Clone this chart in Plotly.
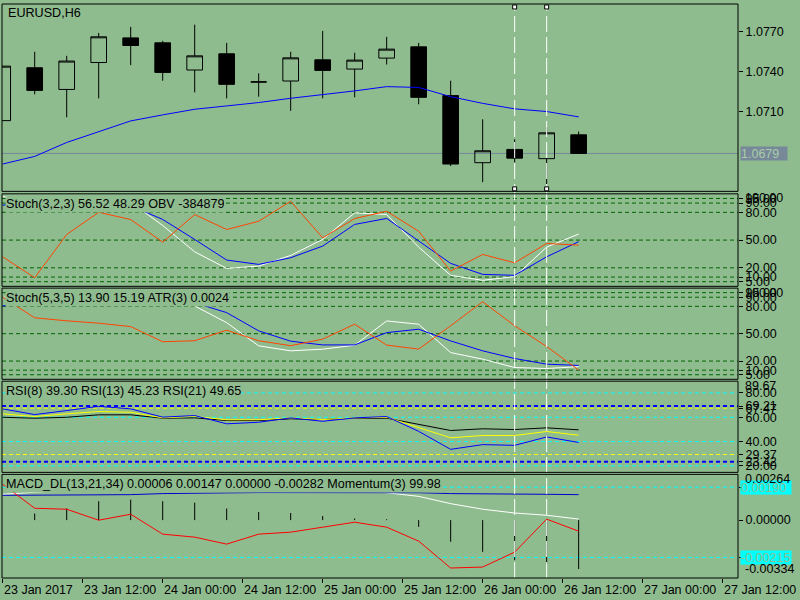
import plotly.graph_objects as go

# ---------------- data (H6 bars, left to right) ----------------
bars = list(range(19))

open_ = [1.07035, 1.07430, 1.07268, 1.07469, 1.07653, 1.07616, 1.07413, 1.07534, 1.07324, 1.07331,
         1.07489, 1.07420, 1.07502, 1.07586, 1.07222, 1.06721, 1.06820, 1.06751, 1.06929]
high = [1.07442, 1.07549, 1.07519, 1.07690, 1.07735, 1.07631, 1.07752, 1.07616, 1.07388, 1.07549,
        1.07705, 1.07542, 1.07661, 1.07616, 1.07333, 1.07045, 1.06896, 1.06986, 1.06954]
low = [1.07035, 1.07231, 1.07060, 1.07201, 1.07450, 1.07333, 1.07246, 1.07201, 1.07214, 1.07108,
       1.07201, 1.07209, 1.07454, 1.07157, 1.06696, 1.06576, 1.06723, 1.06562, 1.06790]
close = [1.07442, 1.07261, 1.07480, 1.07661, 1.07596, 1.07395, 1.07519, 1.07306, 1.07324, 1.07504,
         1.07410, 1.07487, 1.07569, 1.07209, 1.06711, 1.06810, 1.06755, 1.06944, 1.06790]
ma = [1.06711, 1.06768, 1.06872, 1.06954, 1.07033, 1.07078, 1.07120, 1.07145, 1.07170, 1.07202,
      1.07227, 1.07257, 1.07289, 1.07283, 1.07214, 1.07164, 1.07123, 1.07103, 1.07063]
bid = 1.0679

stoch1_main = [97, 92, 93, 92, 91, 65.8, 37.3, 19.4, 21.9, 33.4, 50.7, 79.4, 77.7, 42.4, 11.9, 6.5, 10.4, 42.4, 56.52]
stoch1_signal = [87.7, 92, 95, 93, 87.2, 72.3, 50.7, 28.4, 23.7, 30.9, 43.5, 66.9, 73.4, 48.9, 24.8, 12.9, 11.9, 31.9, 48.29]
obv = [-478500, -646500, -299300, -120900, -179300, -360900, -139300, -259300, -192900, -32900,
       -326500, -171300, -112900, -272900, -592900, -459300, -526500, -371300, -384879]

stoch2_main = [90, 93, 94, 95, 95, 95, 80.4, 62.1, 36.7, 31.2, 33, 37.4, 64, 60.4, 29.3, 22.1, 12.9, 11.8, 13.90]
stoch2_signal = [80.5, 83, 88, 90, 90, 88, 84, 73.1, 53.1, 41.8, 37.7, 37.7, 51.2, 54.9, 42.1, 31.2, 22.8, 16.6, 15.19]
atr = [0.00605, 0.00502, 0.00487, 0.00475, 0.00458, 0.00382, 0.00387, 0.00440, 0.00387, 0.00362,
       0.00395, 0.00470, 0.00365, 0.00345, 0.00462, 0.00583, 0.00462, 0.00358, 0.0024]

rsi8 = [66.9, 62.2, 65.5, 69.0, 66.9, 60.1, 61.4, 54.6, 55.9, 59.5, 56.7, 59.5, 60.6, 48.4, 33.6, 37.5, 36.9, 43.8, 39.30]
rsi13 = [62.8, 60.6, 62.8, 64.7, 64.1, 59.5, 60.8, 57.9, 57.9, 59.5, 58.1, 59.5, 60.0, 51.6, 43.1, 45.0, 45.0, 48.3, 45.23]
rsi21 = [60.0, 59.2, 60.0, 62.0, 62.0, 59.2, 59.5, 57.3, 57.3, 58.7, 58.1, 59.2, 59.2, 54.0, 49.1, 50.5, 49.9, 51.3, 49.65]

macd_main = [0.00149, 0.00159, 0.00172, 0.00176, 0.00178, 0.00180, 0.00180, 0.00178, 0.00176, 0.00174,
             0.00172, 0.00172, 0.00158, 0.00137, 0.00095, 0.00063, 0.00041, 0.00028, 0.00006]
macd_signal = [0.00143, 0.00143, 0.00143, 0.00144, 0.00147, 0.00153, 0.00153, 0.00157, 0.00159, 0.00159,
               0.00159, 0.00159, 0.00159, 0.00158, 0.00153, 0.00153, 0.00152, 0.00149, 0.00147]
macd_hist = [None, 0.00038, 0.00067, 0.00109, 0.00118, 0.00109, 0.00101, 0.00067, 0.00047, 0.00041,
             0.00024, 0.00009, 0.00005, -0.00039, -0.00125, -0.00183, -0.00231, -0.00254, -0.00282]
momentum = [100.45, 100.21, 100.20, 100.09, 100.15, 99.95, 99.92, 99.85, 99.95, 99.97,
            100.02, 100.07, 100.02, 99.88, 99.61, 99.62, 99.77, 100.10, 99.98]

time_ticks = [0, 2.5, 5, 7.5, 10, 12.5, 15, 17.5, 20, 22.5]
time_labels = ["23 Jan 2017", "23 Jan 12:00", "24 Jan 00:00", "24 Jan 12:00", "25 Jan 00:00",
               "25 Jan 12:00", "26 Jan 00:00", "26 Jan 12:00", "27 Jan 00:00", "27 Jan 12:00"]
vline_bars = [16, 17]

stoch_levels = [95, 90, 80, 50, 20, 10, 5]
rsi_cyan = [80, 60, 40, 20]
rsi_blue = [69.21, 23.42]
rsi_yellow = [67.47, 29.37]
macd_levels = [0.00190, -0.00215]

# ---------------- layout helpers ----------------
BG = "#8FBC8F"
FONT = "Liberation Sans"
TOP, BOTTOM = 2, 578


def py(p):
    """pixel row -> paper fraction"""
    return (BOTTOM - p) / (BOTTOM - TOP)


panels = {
    "main": (2, 190),
    "p1": (192.5, 285.3),
    "p2": (287.1, 378.6),
    "p3": (380.5, 472),
    "p4": (474, 578),
}

fig = go.Figure()

# main chart
fig.add_trace(go.Scatter(x=bars, y=ma, mode="lines", line=dict(color="#0000FF", width=1),
                         yaxis="y", hoverinfo="skip"))
fig.add_trace(go.Candlestick(
    x=bars, open=open_, high=high, low=low, close=close, yaxis="y",
    increasing=dict(line=dict(color="black", width=1), fillcolor="rgba(0,0,0,0)"),
    decreasing=dict(line=dict(color="black", width=1), fillcolor="black"),
    whiskerwidth=0, hoverinfo="skip",
))

# Stoch(3,2,3) + OBV
fig.add_trace(go.Scatter(x=bars, y=obv, mode="lines", line=dict(color="#FF4500", width=1), yaxis="y6"))
fig.add_trace(go.Scatter(x=bars, y=stoch1_main, mode="lines", line=dict(color="white", width=1), yaxis="y2"))
fig.add_trace(go.Scatter(x=bars, y=stoch1_signal, mode="lines", line=dict(color="#0000FF", width=1), yaxis="y2"))

# Stoch(5,3,5) + ATR
fig.add_trace(go.Scatter(x=bars, y=atr, mode="lines", line=dict(color="#FF4500", width=1), yaxis="y7"))
fig.add_trace(go.Scatter(x=bars, y=stoch2_main, mode="lines", line=dict(color="white", width=1), yaxis="y3"))
fig.add_trace(go.Scatter(x=bars, y=stoch2_signal, mode="lines", line=dict(color="#0000FF", width=1), yaxis="y3"))

# RSI
fig.add_trace(go.Scatter(x=bars, y=rsi21, mode="lines", line=dict(color="black", width=1), yaxis="y4"))
fig.add_trace(go.Scatter(x=bars, y=rsi13, mode="lines", line=dict(color="#FFFF00", width=1), yaxis="y4"))
fig.add_trace(go.Scatter(x=bars, y=rsi8, mode="lines", line=dict(color="#0000FF", width=1), yaxis="y4"))

# MACD histogram as thin sticks from zero
hx, hy = [], []
for b, v in zip(bars, macd_hist):
    if v is None:
        continue
    hx += [b, b, None]
    hy += [0, v, None]
fig.add_trace(go.Scatter(x=hx, y=hy, mode="lines", line=dict(color="black", width=1), yaxis="y5"))
fig.add_trace(go.Scatter(x=bars, y=momentum, mode="lines", line=dict(color="#FF0000", width=1), yaxis="y8"))
fig.add_trace(go.Scatter(x=bars, y=macd_main, mode="lines", line=dict(color="white", width=1), yaxis="y5"))
fig.add_trace(go.Scatter(x=bars, y=macd_signal, mode="lines", line=dict(color="#0000CC", width=1), yaxis="y5"))

shapes = []
# level lines
for lv in stoch_levels:
    for ax in ("y2", "y3"):
        shapes.append(dict(type="line", xref="paper", x0=0, x1=1, yref=ax, y0=lv, y1=lv, layer="below",
                           line=dict(color="#006400", width=1, dash="4px,3px")))
for lv in rsi_cyan:
    shapes.append(dict(type="line", xref="paper", x0=0, x1=1, yref="y4", y0=lv, y1=lv, layer="below",
                       line=dict(color="#00FFFF", width=1, dash="4px,3px")))
for lv in rsi_yellow:
    shapes.append(dict(type="line", xref="paper", x0=0, x1=1, yref="y4", y0=lv, y1=lv, layer="below",
                       line=dict(color="#FFFF00", width=1, dash="4px,3px")))
for lv in rsi_blue:
    shapes.append(dict(type="line", xref="paper", x0=0, x1=1, yref="y4", y0=lv, y1=lv, layer="below",
                       line=dict(color="#0000FF", width=2, dash="4px,3px")))
for lv in macd_levels:
    shapes.append(dict(type="line", xref="paper", x0=0, x1=1, yref="y5", y0=lv, y1=lv, layer="below",
                       line=dict(color="#00FFFF", width=1, dash="4px,3px")))
# bid line
shapes.append(dict(type="line", xref="paper", x0=0, x1=1, yref="y", y0=bid, y1=bid, layer="below",
                   line=dict(color="#778899", width=1)))
# vertical marker lines across all windows
for b in vline_bars:
    shapes.append(dict(type="line", xref="x", x0=b, x1=b, yref="paper", y0=0, y1=py(5), layer="above",
                       line=dict(color="white", width=1, dash="16px,5px")))
    for yy in (5, 187.5):
        shapes.append(dict(type="rect", xref="x", xsizemode="pixel", xanchor=b, x0=-2, x1=2,
                           yref="paper", ysizemode="pixel", yanchor=py(yy), y0=-2, y1=2,
                           fillcolor="white", line=dict(color="black", width=1), layer="above"))
# panel borders
for top, bot in panels.values():
    shapes.append(dict(type="rect", xref="paper", x0=0, x1=1, yref="paper", y0=py(bot), y1=py(top),
                       line=dict(color="black", width=1), fillcolor="rgba(0,0,0,0)", layer="above"))

ann = []
# window captions (MT4 paints them on an opaque background)
captions = [
    ("p1", "Stoch(3,2,3) 56.52 48.29 OBV -384879"),
    ("p2", "Stoch(5,3,5) 13.90 15.19 ATR(3) 0.0024"),
    ("p3", "RSI(8) 39.30 RSI(13) 45.23 RSI(21) 49.65"),
    ("p4", "MACD_DL(13,21,34) 0.00006 0.00147 0.00000 -0.00282 Momentum(3) 99.98"),
]
for key, txt in captions:
    top = panels[key][0]
    ann.append(dict(text=txt, xref="paper", x=0, xanchor="left", xshift=3, yref="paper", y=py(top + 10.5),
                    yanchor="middle", showarrow=False, bgcolor=BG, borderpad=0, height=14.5,
                    font=dict(family=FONT, size=12.6, color="black")))
ann.append(dict(text="EURUSD,H6", xref="paper", x=0, xanchor="left", xshift=4, yref="paper", y=py(11),
                yanchor="middle", showarrow=False, font=dict(family=FONT, size=12.6, color="black")))

# right-hand price labels
ann.append(dict(text="1.0679", xref="paper", x=1, xanchor="left", xshift=2, yref="y", y=bid,
                yanchor="middle", showarrow=False, bgcolor="#778899", borderpad=0, width=46, height=13,
                align="left", font=dict(family=FONT, size=12.5, color="#A8CCA8")))
for lv in macd_levels:
    ann.append(dict(text=f"{lv:.5f}", xref="paper", x=1, xanchor="left", xshift=2, yref="y5", y=lv,
                    yanchor="middle", showarrow=False, bgcolor="#00FFFF", borderpad=0, width=50, height=13,
                    align="left", font=dict(family=FONT, size=12.5, color="#8FBC8F")))
extra_right = [("100.00", 197), ("100.00", 291.7), ("89.67", 385.5), ("0.00264", 478.5), ("-0.00334", 569)]
for txt, yy in extra_right:
    ann.append(dict(text=txt, xref="paper", x=1, xanchor="left", xshift=5, yref="paper", y=py(yy),
                    yanchor="middle", showarrow=False, font=dict(family=FONT, size=12.5, color="black")))

# time labels, left-aligned on their ticks
for t, lab in zip(time_ticks, time_labels):
    ann.append(dict(text=lab, xref="x", x=t, xanchor="left", xshift=-1, yref="paper", y=0,
                    yanchor="top", yshift=-3, showarrow=False, font=dict(family=FONT, size=12.5, color="black")))


def yax(key, rng, tickvals, ticktext):
    top, bot = panels[key]
    return dict(domain=[py(bot), py(top)], range=rng, side="right", anchor="x", showgrid=False,
                zeroline=False, showline=False, ticks="outside", ticklen=4, tickcolor="black",
                tickvals=tickvals, ticktext=ticktext, tickfont=dict(family=FONT, size=12.5, color="black"),
                fixedrange=True)


def overlay(base, rng):
    return dict(overlaying=base, range=rng, visible=False, showgrid=False, zeroline=False, fixedrange=True)


price_ticks = [1.0710, 1.0740, 1.0770]
fig.update_layout(
    width=800, height=600,
    margin=dict(l=2, r=62, t=2, b=22),
    paper_bgcolor=BG, plot_bgcolor=BG,
    showlegend=False, hovermode=False,
    boxgap=0.3,
    xaxis=dict(range=[-0.022, 22.98], showgrid=False, zeroline=False, showline=False,
               ticks="outside", ticklen=4, tickcolor="black", tickvals=time_ticks,
               showticklabels=False, anchor="y5", rangeslider=dict(visible=False), fixedrange=True),
    yaxis=yax("main", [1.06507, 1.07906], price_ticks, [f"{v:.4f}" for v in price_ticks]),
    yaxis2=yax("p1", [0, 100], stoch_levels, [f"{v:.2f}" for v in stoch_levels]),
    yaxis3=yax("p2", [0, 100], stoch_levels, [f"{v:.2f}" for v in stoch_levels]),
    yaxis4=yax("p3", [14.67, 89.67], rsi_cyan + rsi_blue + rsi_yellow,
               [f"{v:.2f}" for v in rsi_cyan + rsi_blue + rsi_yellow]),
    yaxis5=yax("p4", [-0.00334, 0.00264], [0.0] + macd_levels, ["0.00000", "", ""]),
    yaxis6=overlay("y2", [-715279, 27121]),
    yaxis7=overlay("y3", [0.001935, 0.00651]),
    yaxis8=overlay("y5", [99.51, 100.55]),
    shapes=shapes,
    annotations=ann,
)

# the page's default body margin would push the 800x600 figure off the window
fig.write_html("out.html", config={"displayModeBar": False},
               post_script="document.body.style.margin='0px';")
